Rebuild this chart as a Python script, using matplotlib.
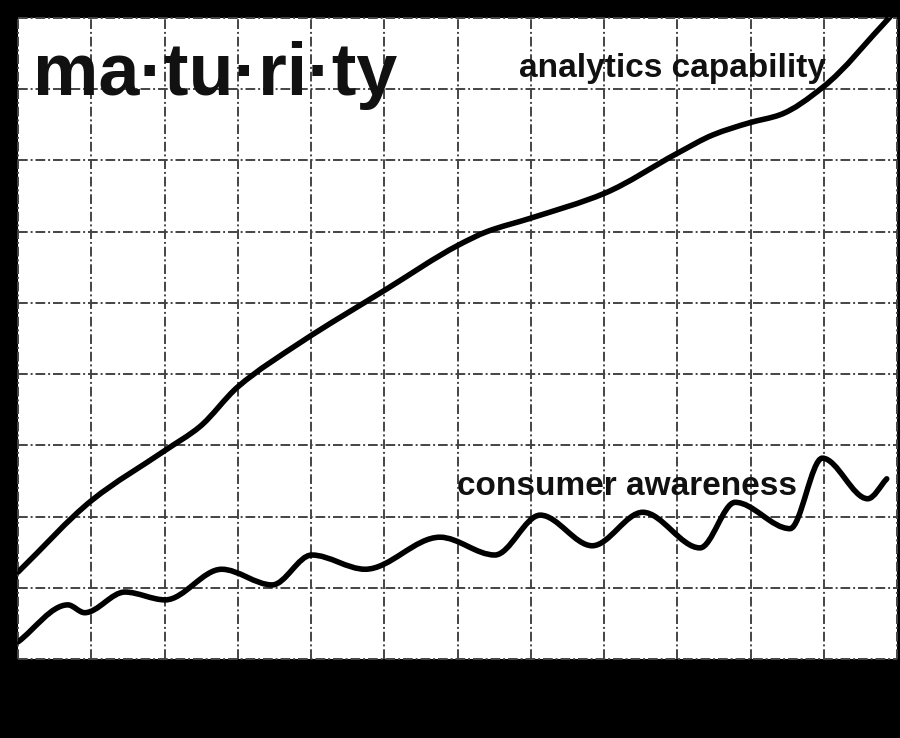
import numpy as np
import matplotlib
matplotlib.use("Agg")
import matplotlib.pyplot as plt
from matplotlib.path import Path
from matplotlib.patches import PathPatch

# ---- data ----
analytics_x = [0.0, 1.01, 2.01, 2.48, 3.00, 3.85, 5.01, 6.01, 6.40, 7.00, 8.01, 9.00, 9.49, 9.99, 10.40, 10.99, 11.90]
analytics_y = [1.22, 2.23, 2.93, 3.26, 3.82, 4.44, 5.18, 5.81, 6.00, 6.19, 6.54, 7.10, 7.36, 7.53, 7.64, 8.03, 9.01]

consumer_x = [0.0, 0.68, 0.91, 1.46, 2.01, 2.78, 3.47, 4.01, 4.74, 5.76, 6.51, 7.13, 7.84, 8.53, 9.31, 9.79, 10.54, 10.98, 11.60, 11.86]
consumer_y = [0.24, 0.76, 0.65, 0.94, 0.83, 1.26, 1.04, 1.46, 1.26, 1.71, 1.46, 2.02, 1.59, 2.06, 1.56, 2.20, 1.83, 2.82, 2.25, 2.53]

title_text = "ma\u00b7tu\u00b7ri\u00b7ty"
label_analytics = "analytics capability"
label_consumer = "consumer awareness"


def smooth_path(xs, ys):
    """Bezier path through the points with monotone (PCHIP-like) tangents."""
    x = np.asarray(xs, float)
    y = np.asarray(ys, float)
    n = len(x)
    h = np.diff(x)
    d = np.diff(y) / h
    m = np.zeros(n)
    for i in range(1, n - 1):
        if d[i - 1] * d[i] <= 0:
            m[i] = 0.0
        else:
            w1 = 2 * h[i] + h[i - 1]
            w2 = h[i] + 2 * h[i - 1]
            m[i] = (w1 + w2) / (w1 / d[i - 1] + w2 / d[i])
    m[0] = d[0]
    m[-1] = d[-1]
    verts = [(x[0], y[0])]
    codes = [Path.MOVETO]
    for i in range(n - 1):
        c1 = (x[i] + h[i] / 3, y[i] + m[i] * h[i] / 3)
        c2 = (x[i + 1] - h[i] / 3, y[i + 1] - m[i + 1] * h[i] / 3)
        verts += [c1, c2, (x[i + 1], y[i + 1])]
        codes += [Path.CURVE4] * 3
    return Path(verts, codes)


plt.rcParams['font.family'] = ['Liberation Sans', 'DejaVu Sans']

fig = plt.figure(figsize=(9, 7.38), dpi=100, facecolor='black')
ax = fig.add_axes([18 / 900, 1 - 659 / 738, 879 / 900, 641 / 738])
ax.set_facecolor('white')
ax.set_xlim(0, 12)
ax.set_ylim(0, 9)
ax.set_xticks(np.arange(0, 13))
ax.set_yticks(np.arange(0, 10))
ax.tick_params(length=0, labelbottom=False, labelleft=False)
for s in ax.spines.values():
    s.set_visible(False)
ax.grid(True, color='#444444', linestyle=(0, (5, 1.5, 1, 1.5)), linewidth=1.4)
for gl in ax.get_xgridlines() + ax.get_ygridlines():
    gl.set_clip_on(False)
ax.set_axisbelow(True)

for xs, ys in [(analytics_x, analytics_y), (consumer_x, consumer_y)]:
    patch = PathPatch(smooth_path(xs, ys), facecolor='none', edgecolor='black',
                      linewidth=4.0, capstyle='round', joinstyle='round', zorder=3)
    ax.add_patch(patch)

ax.text(0.2, 7.92, title_text, fontsize=53, fontweight='bold', color='#111111',
        ha='left', va='baseline', zorder=4)
ax.text(6.84, 8.17, label_analytics, fontsize=24, fontweight='bold', color='#111111',
        ha='left', va='baseline', zorder=4)
ax.text(5.99, 2.30, label_consumer, fontsize=24, fontweight='bold', color='#111111',
        ha='left', va='baseline', zorder=4)

fig.savefig('out.png', dpi=100, facecolor='black')
